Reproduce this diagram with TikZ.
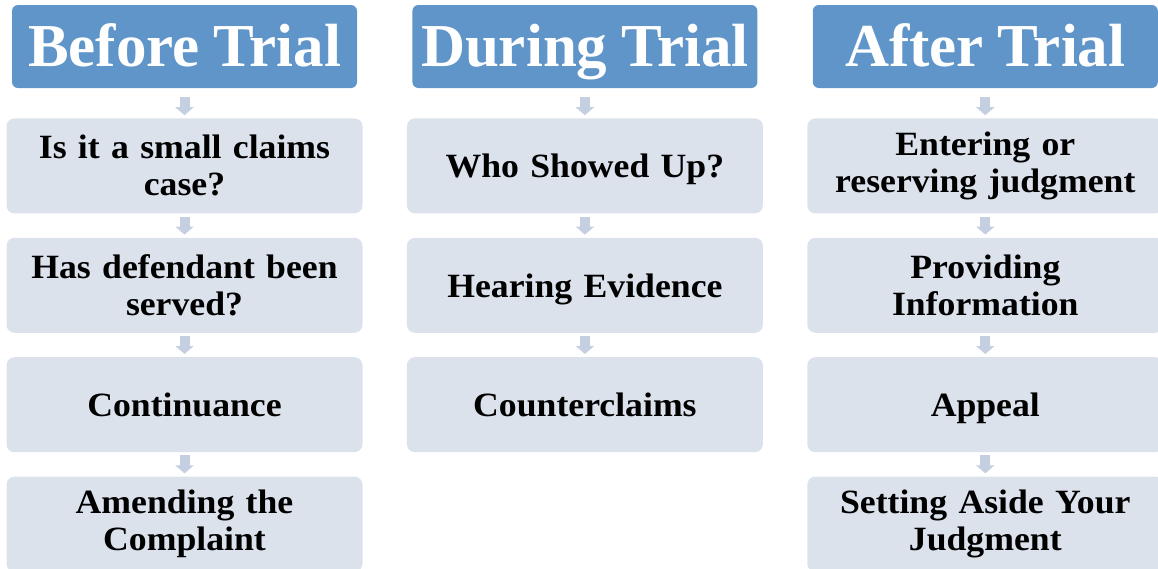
\documentclass[tikz,border=0pt]{standalone}
\usepackage{fontspec}
\setmainfont{Liberation Serif}
\newfontfamily\stepfont[FakeStretch=1.05, WordSpace=0.75]{Liberation Serif}
\newfontfamily\headfont[WordSpace=0.9]{Liberation Serif}
\usetikzlibrary{arrows.meta,positioning}
\definecolor{HeadBlue}{HTML}{6095C9}
\definecolor{StepBg}{HTML}{DCE2EC}
\definecolor{ArrowGrey}{HTML}{C4CFE2}

\begin{document}
\begin{tikzpicture}[x=1pt, y=1pt, node distance=55pt,
  head/.style={rounded corners=6pt, fill=HeadBlue, minimum width=345pt, minimum height=83pt,
               inner sep=0pt, text height=40pt, text depth=0pt, text=white,
               font=\headfont\bfseries\fontsize{61}{66}\selectfont},
  stepbox/.style={rounded corners=8pt, fill=StepBg, minimum width=356pt, minimum height=95pt,
                  text width=345pt, align=center, inner sep=0pt,
                  font=\stepfont\bfseries\fontsize{34}{37}\selectfont},
  oneline/.style={stepbox, text height=25pt, text depth=1pt},
  arr/.style={-{Triangle[length=8pt, width=18pt]}, line width=10pt, draw=ArrowGrey,
              shorten >=3pt, shorten <=3pt}]
  \useasboundingbox (0,0) rectangle (1158,-568);
  \node[head] (before) at (184.5,-46.5) {Before Trial};
  \node[head, right=of before] (during) {During Trial};
  \node[head, right=of during] (after) {After Trial};
  \node[stepbox, below=30pt of before] (small) {Is it a small claims\\case?};
  \node[stepbox, below=24pt of small] (served) {Has defendant been\\served?};
  \node[oneline, below=24pt of served] (cont) {Continuance};
  \node[stepbox, below=24pt of cont] (amend) {Amending the\\Complaint};
  \node[oneline, below=30pt of during] (who) {Who Showed Up?};
  \node[oneline, below=24pt of who] (hear) {Hearing Evidence};
  \node[oneline, below=24pt of hear] (counter) {Counterclaims};
  \node[stepbox, below=30pt of after] (enter) {Entering or\\reserving judgment};
  \node[stepbox, below=24pt of enter] (info) {Providing\\Information};
  \node[oneline, below=24pt of info] (appeal) {Appeal};
  \node[stepbox, below=24pt of appeal] (aside) {Setting Aside Your\\Judgment};
  \draw[arr, shorten <=9pt] (before) -- (small);
  \draw[arr] (small) -- (served); \draw[arr] (served) -- (cont); \draw[arr] (cont) -- (amend);
  \draw[arr, shorten <=9pt] (during) -- (who);
  \draw[arr] (who) -- (hear); \draw[arr] (hear) -- (counter);
  \draw[arr, shorten <=9pt] (after) -- (enter);
  \draw[arr] (enter) -- (info); \draw[arr] (info) -- (appeal); \draw[arr] (appeal) -- (aside);
\end{tikzpicture}
\end{document}
